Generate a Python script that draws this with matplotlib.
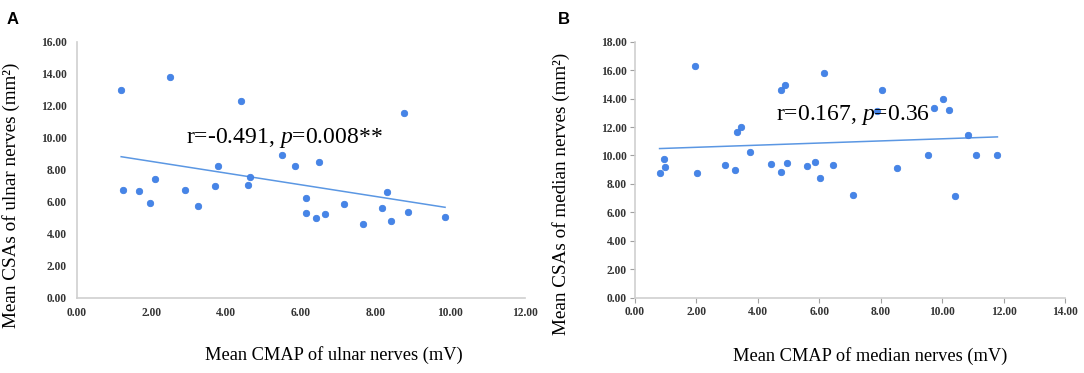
#!/usr/bin/env python3
"""Scatter plots of nerve CSA vs CMAP (ulnar and median) with linear fits"""

import numpy as np
import matplotlib
matplotlib.use('Agg')
import matplotlib.pyplot as plt

# Panel A - ulnar nerves
ulnar_cmap = [1.19, 2.51, 4.40, 5.50, 5.85, 6.49, 3.79, 2.10, 4.65, 4.59,
              3.69, 1.25, 1.68, 2.89, 1.97, 3.24, 6.15, 6.15, 6.40, 6.65,
              7.15, 8.16, 8.30, 8.75, 7.66, 8.40, 8.86, 9.86]
ulnar_csa = [13.00, 13.81, 12.28, 8.94, 8.21, 8.46, 8.23, 7.44, 7.56, 7.06,
             6.96, 6.71, 6.67, 6.71, 5.92, 5.73, 6.23, 5.31, 4.98, 5.21,
             5.84, 5.59, 6.61, 11.56, 4.59, 4.81, 5.34, 5.06]

# Panel B - median nerves
median_cmap = [0.80, 0.94, 0.97, 1.95, 2.01, 2.94, 3.25, 3.33, 3.44, 3.74,
               4.44, 4.74, 4.74, 4.88, 4.94, 5.59, 5.85, 6.03, 6.14, 6.44,
               7.09, 7.87, 8.03, 8.54, 9.54, 9.75, 10.04, 10.21, 10.43, 10.84,
               11.09, 11.80]
median_csa = [8.79, 9.78, 9.19, 16.27, 8.79, 9.33, 9.00, 11.63, 12.00, 10.27,
              9.40, 14.63, 8.84, 14.94, 9.45, 9.28, 9.52, 8.44, 15.78, 9.33,
              7.20, 13.15, 14.63, 9.10, 10.04, 13.34, 13.97, 13.22, 7.17, 11.44,
              10.04, 10.04]

ulnar_stats = r'r=-0.491, $\mathit{p}$=0.008**'
median_stats = r'r=0.167, $\mathit{p}$=0.36'

plt.rcParams['font.family'] = 'Liberation Serif'
plt.rcParams['mathtext.fontset'] = 'custom'
plt.rcParams['mathtext.rm'] = 'Liberation Serif'
plt.rcParams['mathtext.it'] = 'Liberation Serif:italic'

W, H = 1084, 373
fig = plt.figure(figsize=(W / 100, H / 100), dpi=100)

point_color = '#4685e8'
line_color = '#5b97e3'
spine_color = '#cfcfcf'
tick_color = '#333333'


def setup_axes(rect, xmax, ymax, ticks_on):
    ax = fig.add_axes(rect)
    ax.set_xlim(0, xmax)
    ax.set_ylim(0, ymax)
    ax.set_xticks(np.arange(0, xmax + 0.1, 2))
    ax.set_yticks(np.arange(0, ymax + 0.1, 2))
    ax.set_xticklabels([f'{v:.2f}' for v in ax.get_xticks()])
    ax.set_yticklabels([f'{v:.2f}' for v in ax.get_yticks()])
    for s in ['top', 'right']:
        ax.spines[s].set_visible(False)
    for s in ['left', 'bottom']:
        ax.spines[s].set_color(spine_color)
        ax.spines[s].set_linewidth(1.2)
    if ticks_on:
        ax.tick_params(length=3.5, width=0.8, color='#a0a0a0', pad=2.5)
    else:
        ax.tick_params(length=0, pad=7)
    for lab in ax.get_xticklabels() + ax.get_yticklabels():
        lab.set_fontsize(8.3)
        lab.set_fontweight('bold')
        lab.set_color(tick_color)
    return ax


def draw_panel(ax, x, y, stats, stats_pos):
    x = np.array(x)
    y = np.array(y)
    slope, intercept = np.polyfit(x, y, 1)
    xs = np.array([x.min(), x.max()])
    ax.plot(xs, slope * xs + intercept, color=line_color, lw=1.1, zorder=2)
    ax.scatter(x, y, s=22, color=point_color, edgecolors='#3b7ae0',
               linewidths=0.5, zorder=3, clip_on=False)
    ax.text(stats_pos[0], stats_pos[1], stats, fontsize=17, color='black',
            ha='left', va='baseline', zorder=4)


# Panel A
axA = setup_axes([76.7 / W, 1 - 297.7 / H, 448.3 / W, 256 / H], 12, 16, False)
draw_panel(axA, ulnar_cmap, ulnar_csa, ulnar_stats, (2.93, 9.67))

# Panel B
axB = setup_axes([635 / W, 1 - 297.7 / H, 430 / W, 256 / H], 14, 18, True)
draw_panel(axB, median_cmap, median_csa, median_stats, (4.59, 12.49))

# Axis titles placed in figure coordinates
fig.text(333.7 / W, 1 - 355 / H, 'Mean CMAP of ulnar nerves (mV)',
         fontsize=13.2, ha='center', va='center')
fig.text(11 / W, 1 - 195 / H, 'Mean CSAs of ulnar nerves (mm²)',
         fontsize=13.8, ha='center', va='center', rotation=90)
fig.text(870 / W, 1 - 356 / H, 'Mean CMAP of median nerves (mV)',
         fontsize=13.2, ha='center', va='center')
fig.text(561 / W, 1 - 194 / H, 'Mean CSAs of median nerves (mm²)',
         fontsize=13.8, ha='center', va='center', rotation=90)

# Panel letters
fig.text(7 / W, 1 - 24 / H, 'A', fontsize=12, fontweight='bold',
         family='Liberation Sans', ha='left', va='baseline')
fig.text(558 / W, 1 - 24 / H, 'B', fontsize=12, fontweight='bold',
         family='Liberation Sans', ha='left', va='baseline')

fig.savefig('out.png', dpi=100)
